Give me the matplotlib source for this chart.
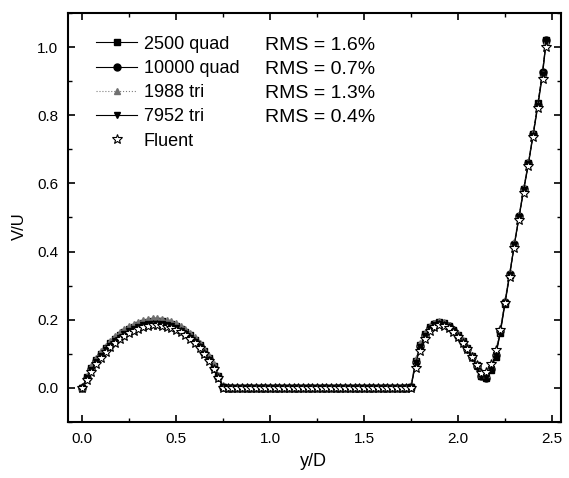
import numpy as np
import matplotlib
matplotlib.use("Agg")
import matplotlib.pyplot as plt

plt.rcParams["font.family"] = ["Liberation Sans", "DejaVu Sans"]

# y/D positions shared by all series
y_over_d = [0.0, 0.025, 0.05, 0.075, 0.1, 0.125, 0.15, 0.175, 0.2, 0.225,
            0.25, 0.275, 0.3, 0.325, 0.35, 0.375, 0.4, 0.425, 0.45, 0.475,
            0.5, 0.525, 0.55, 0.575, 0.6, 0.625, 0.65, 0.675, 0.7, 0.725, 0.75,
            0.775, 0.8, 0.825, 0.85, 0.875, 0.9, 0.925, 0.95, 0.975, 1.0,
            1.025, 1.05, 1.075, 1.1, 1.125, 1.15, 1.175, 1.2, 1.225, 1.25,
            1.275, 1.3, 1.325, 1.35, 1.375, 1.4, 1.425, 1.45, 1.475, 1.5,
            1.525, 1.55, 1.575, 1.6, 1.625, 1.65, 1.675, 1.7, 1.725,
            1.75, 1.775, 1.8, 1.825, 1.85, 1.875, 1.9, 1.925, 1.95, 1.975,
            2.0, 2.025, 2.05, 2.075, 2.1, 2.125,
            2.15, 2.175, 2.2, 2.225, 2.25, 2.275, 2.3, 2.325, 2.35, 2.375,
            2.4, 2.425, 2.45, 2.47]

# V/U in the gap between the cylinders (0.775 .. 1.725)
v_gap = [0.0, 0.0, 0.0, 0.0, 0.0, 0.0, 0.0, 0.0, 0.0, 0.0,
         0.0, 0.0, 0.0, 0.0, 0.0, 0.0, 0.0, 0.0, 0.0, 0.0,
         0.0, 0.0, 0.0, 0.0, 0.0, 0.0, 0.0, 0.0, 0.0, 0.0,
         0.0, 0.0, 0.0, 0.0, 0.0, 0.0, 0.0, 0.0, 0.0]

q2500 = ([0.000, 0.032, 0.059, 0.082, 0.101, 0.117, 0.131, 0.144, 0.155, 0.165,
          0.173, 0.180, 0.186, 0.191, 0.194, 0.196, 0.196, 0.195, 0.192, 0.188,
          0.182, 0.174, 0.165, 0.154, 0.141, 0.126, 0.108, 0.087, 0.063, 0.034, 0.004]
         + v_gap +
         [0.004, 0.080, 0.126, 0.158, 0.178, 0.189, 0.193, 0.191, 0.183, 0.171,
          0.155, 0.137, 0.117, 0.094, 0.066, 0.036,
          0.028, 0.052, 0.092, 0.160, 0.245, 0.330, 0.418, 0.502, 0.585, 0.660,
          0.745, 0.835, 0.925, 1.020])

q10000 = ([0.000, 0.030, 0.056, 0.078, 0.097, 0.113, 0.127, 0.140, 0.151, 0.161,
           0.169, 0.176, 0.182, 0.187, 0.190, 0.192, 0.192, 0.191, 0.188, 0.184,
           0.178, 0.170, 0.161, 0.150, 0.137, 0.122, 0.104, 0.084, 0.060, 0.032, 0.002]
          + v_gap +
          [0.002, 0.075, 0.122, 0.155, 0.175, 0.187, 0.191, 0.189, 0.181, 0.169,
           0.153, 0.135, 0.115, 0.092, 0.065, 0.036,
           0.030, 0.055, 0.096, 0.166, 0.252, 0.334, 0.422, 0.504, 0.584, 0.660,
           0.744, 0.830, 0.928, 1.022])

t1988 = ([0.000, 0.034, 0.063, 0.087, 0.107, 0.124, 0.139, 0.152, 0.163, 0.173,
          0.181, 0.188, 0.194, 0.199, 0.202, 0.204, 0.204, 0.203, 0.200, 0.196,
          0.190, 0.182, 0.173, 0.162, 0.149, 0.133, 0.115, 0.094, 0.069, 0.039, 0.008]
         + v_gap +
         [0.008, 0.085, 0.131, 0.162, 0.181, 0.192, 0.196, 0.194, 0.186, 0.174,
          0.158, 0.140, 0.120, 0.097, 0.070, 0.042,
          0.040, 0.066, 0.108, 0.175, 0.258, 0.340, 0.428, 0.508, 0.588, 0.664,
          0.748, 0.832, 0.922, 1.015])

t7952 = ([0.000, 0.028, 0.053, 0.075, 0.094, 0.110, 0.124, 0.137, 0.148, 0.158,
          0.166, 0.173, 0.179, 0.184, 0.187, 0.189, 0.189, 0.188, 0.185, 0.181,
          0.175, 0.167, 0.158, 0.147, 0.134, 0.119, 0.101, 0.081, 0.057, 0.030, 0.002]
         + v_gap +
         [0.002, 0.072, 0.119, 0.152, 0.172, 0.184, 0.188, 0.186, 0.178, 0.166,
          0.150, 0.132, 0.112, 0.089, 0.062, 0.034,
          0.032, 0.056, 0.096, 0.164, 0.250, 0.332, 0.420, 0.500, 0.580, 0.656,
          0.740, 0.826, 0.918, 1.018])

fluent = ([0.000, 0.024, 0.048, 0.070, 0.089, 0.105, 0.119, 0.132, 0.143, 0.153,
           0.161, 0.168, 0.174, 0.179, 0.182, 0.184, 0.184, 0.183, 0.180, 0.176,
           0.170, 0.163, 0.154, 0.143, 0.131, 0.116, 0.099, 0.079, 0.056, 0.030, 0.000]
          + v_gap +
          [0.000, 0.058, 0.108, 0.144, 0.166, 0.179, 0.184, 0.183, 0.176, 0.165,
           0.150, 0.133, 0.114, 0.092, 0.067, 0.045,
           0.048, 0.070, 0.110, 0.170, 0.250, 0.325, 0.410, 0.492, 0.572, 0.650,
           0.735, 0.820, 0.905, 1.000])

labels = ["2500 quad", "10000 quad", "1988 tri", "7952 tri", "Fluent"]
rms = ["RMS = 1.6%", "RMS = 0.7%", "RMS = 1.3%", "RMS = 0.4%"]

fig = plt.figure(figsize=(5.69, 4.78), dpi=100)
ax = fig.add_axes([0.1195, 0.117, 0.867, 0.856])

ax.plot(y_over_d, q2500, "-", color="black", lw=0.8, marker="s", ms=4.5, label=labels[0])
ax.plot(y_over_d, q10000, "-", color="black", lw=0.8, marker="o", ms=5, label=labels[1])
ax.plot(y_over_d, t1988, ":", color="#808080", lw=0.8, marker="^", ms=5,
        mfc="#707070", mec="#707070", label=labels[2])
ax.plot(y_over_d, t7952, "-", color="black", lw=0.8, marker="v", ms=5, label=labels[3])
ax.plot(y_over_d, fluent, "none", marker="*", ms=7, mfc="white", mec="black",
        mew=0.8, label=labels[4])

ax.set_xlim(-0.075, 2.55)
ax.set_ylim(-0.1, 1.1)
ax.set_xticks([0.0, 0.5, 1.0, 1.5, 2.0, 2.5])
ax.set_xticks([0.25, 0.75, 1.25, 1.75, 2.25], minor=True)
ax.set_yticks([0.0, 0.2, 0.4, 0.6, 0.8, 1.0])
ax.set_yticks([-0.1, 0.1, 0.3, 0.5, 0.7, 0.9, 1.1], minor=True)
ax.tick_params(which="both", direction="in", top=True, right=True, labelsize=11, pad=7)
ax.tick_params(which="major", length=5, width=1.2)
ax.tick_params(which="minor", length=3, width=1.0)
for s in ax.spines.values():
    s.set_linewidth(1.5)

ax.set_xlabel("y/D", fontsize=13)
ax.set_ylabel("V/U", fontsize=12)
ax.xaxis.set_label_coords(0.497, -0.075)
ax.yaxis.set_label_coords(-0.083, 0.479)

ax.legend(loc="upper left", bbox_to_anchor=(0.042, 0.962), frameon=False, fontsize=13,
          handlelength=2.3, handletextpad=0.35, labelspacing=0.4, numpoints=1,
          borderaxespad=0)
for i, r in enumerate(rms):
    ax.text(0.40, 0.920 - i * 0.0587, r, transform=ax.transAxes, fontsize=14,
            va="center", ha="left")

fig.savefig("out.png", dpi=100)
